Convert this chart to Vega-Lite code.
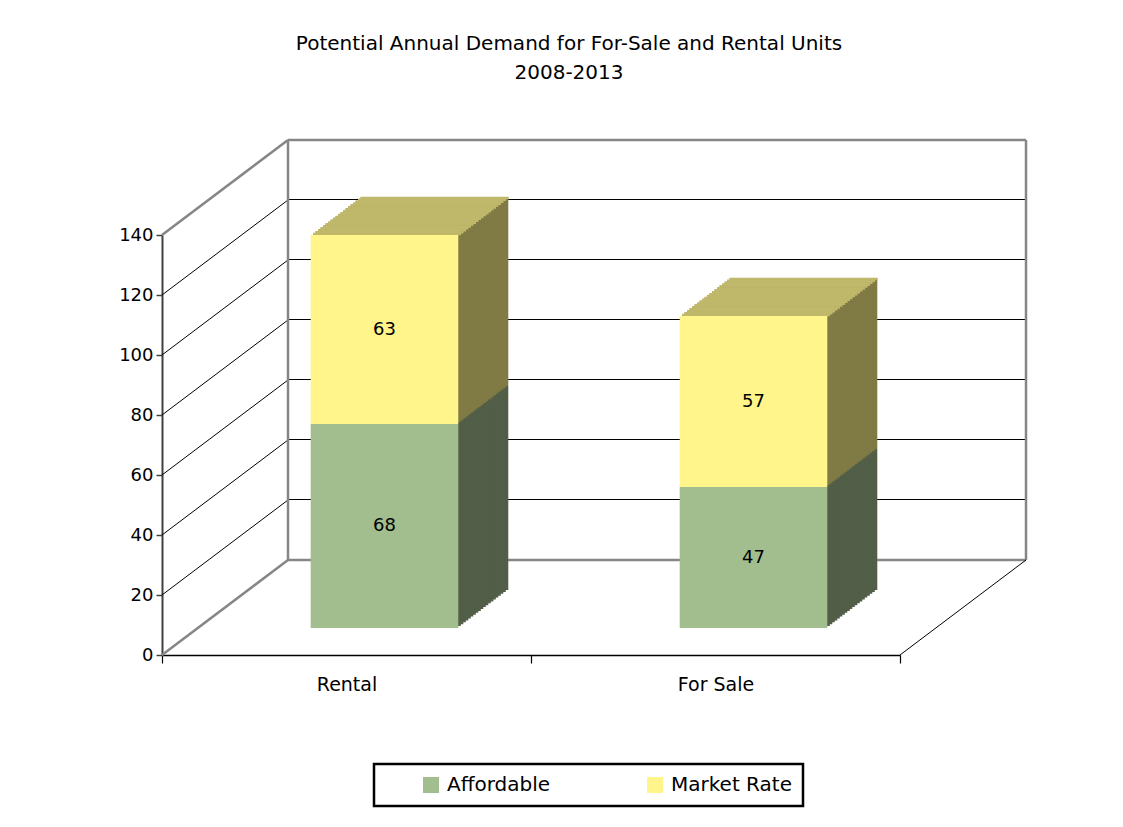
{
  "$schema": "https://vega.github.io/schema/vega-lite/v6.json",
  "autosize": "none",
  "width": 738,
  "height": 420,
  "padding": {"left": 162, "top": 235, "right": 223, "bottom": 172},
  "background": "white",
  "title": {
    "text": ["Potential Annual Demand for For-Sale and Rental Units", "2008-2013"],
    "anchor": "middle",
    "dx": 38,
    "offset": 56,
    "fontSize": 20,
    "font": "DejaVu Sans",
    "fontWeight": "normal",
    "color": "#000000",
    "lineHeight": 29
  },
  "datasets": {
    "bars": [
      {"cat": "Rental", "s": "Affordable", "value": 68},
      {"cat": "Rental", "s": "Market Rate", "value": 63},
      {"cat": "For Sale", "s": "Affordable", "value": 47},
      {"cat": "For Sale", "s": "Market Rate", "value": 57}
    ],
    "grid": [{"v": 0}, {"v": 20}, {"v": 40}, {"v": 60}, {"v": 80}, {"v": 100}, {"v": 120}, {"v": 140}],
    "one": [{"k": 1}]
  },
  "layer": [
    {
      "data": {"name": "grid"},
      "transform": [{"filter": "datum.v > 0 && datum.v < 140"}],
      "mark": {"type": "rule", "xOffset": 126, "x2Offset": 126, "yOffset": -95.5, "color": "#000000", "strokeWidth": 1},
      "encoding": {
        "x": {"datum": "Rental", "type": "nominal", "bandPosition": 0, "title": null, "scale": {"domain": ["Rental", "For Sale"], "paddingInner": 0, "paddingOuter": 0}},
        "x2": {"datum": "For Sale", "bandPosition": 1},
        "y": {"field": "v", "type": "quantitative", "title": null, "scale": {"domain": [0, 140], "nice": false}, "axis": {"values": [0, 20, 40, 60, 80, 100, 120, 140]}}
      }
    },
    {
      "data": {"name": "grid"},
      "transform": [{"filter": "datum.v == 0 || datum.v == 140"}],
      "mark": {"type": "rule", "xOffset": 126, "x2Offset": 126, "yOffset": -95, "color": "#868686", "strokeWidth": 2.5},
      "encoding": {
        "x": {"datum": "Rental", "type": "nominal", "bandPosition": 0, "title": null},
        "x2": {"datum": "For Sale", "bandPosition": 1},
        "y": {"field": "v", "type": "quantitative", "title": null}
      }
    },
    {
      "data": {"name": "grid"},
      "transform": [{"filter": "datum.v > 0 && datum.v < 140"}],
      "mark": {"type": "rule", "x2Offset": 126, "y2Offset": -95, "color": "#000000", "strokeWidth": 1},
      "encoding": {
        "x": {"datum": "Rental", "type": "nominal", "bandPosition": 0, "title": null},
        "x2": {"datum": "Rental", "bandPosition": 0},
        "y": {"field": "v", "type": "quantitative", "title": null},
        "y2": {"field": "v"}
      }
    },
    {
      "data": {"name": "grid"},
      "transform": [{"filter": "datum.v == 0 || datum.v == 140"}],
      "mark": {"type": "rule", "x2Offset": 126, "y2Offset": -95, "color": "#868686", "strokeWidth": 2.5},
      "encoding": {
        "x": {"datum": "Rental", "type": "nominal", "bandPosition": 0, "title": null},
        "x2": {"datum": "Rental", "bandPosition": 0},
        "y": {"field": "v", "type": "quantitative", "title": null},
        "y2": {"field": "v"}
      }
    },
    {
      "data": {"name": "one"},
      "mark": {"type": "rule", "xOffset": 126, "yOffset": -95, "y2Offset": -95, "color": "#868686", "strokeWidth": 2.5},
      "encoding": {
        "x": {"datum": "Rental", "type": "nominal", "bandPosition": 0, "title": null},
        "y": {"datum": 0, "type": "quantitative", "title": null},
        "y2": {"datum": 140}
      }
    },
    {
      "data": {"name": "one"},
      "mark": {"type": "rule", "xOffset": 126, "yOffset": -95, "y2Offset": -95, "color": "#868686", "strokeWidth": 2.5},
      "encoding": {
        "x": {"datum": "For Sale", "type": "nominal", "bandPosition": 1, "title": null},
        "y": {"datum": 0, "type": "quantitative", "title": null},
        "y2": {"datum": 140}
      }
    },
    {
      "data": {"name": "one"},
      "mark": {"type": "rule", "x2Offset": 126, "y2Offset": -95, "color": "#000000", "strokeWidth": 1},
      "encoding": {
        "x": {"datum": "For Sale", "type": "nominal", "bandPosition": 1, "title": null},
        "x2": {"datum": "For Sale", "bandPosition": 1},
        "y": {"datum": 0, "type": "quantitative", "title": null},
        "y2": {"datum": 0}
      }
    },
    {"data": {"name": "bars"}, "mark": {"type": "bar", "width": {"band": 0.4}, "xOffset": 88, "yOffset": -65}, "encoding": {"x": {"field": "cat", "type": "nominal", "title": null}, "y": {"field": "value", "type": "quantitative", "stack": "zero", "title": null}, "order": {"field": "s"}, "color": {"condition": {"test": "datum.s === 'Affordable'", "value": "#525E48"}, "value": "#807A44"}}},
    {"data": {"name": "bars"}, "mark": {"type": "bar", "width": {"band": 0.4}, "xOffset": 85.5, "yOffset": -63.1}, "encoding": {"x": {"field": "cat", "type": "nominal", "title": null}, "y": {"field": "value", "type": "quantitative", "stack": "zero", "title": null}, "order": {"field": "s"}, "color": {"condition": {"test": "datum.s === 'Affordable'", "value": "#525E48"}, "value": "#807A44"}}},
    {"data": {"name": "bars"}, "mark": {"type": "bar", "width": {"band": 0.4}, "xOffset": 83, "yOffset": -61.2}, "encoding": {"x": {"field": "cat", "type": "nominal", "title": null}, "y": {"field": "value", "type": "quantitative", "stack": "zero", "title": null}, "order": {"field": "s"}, "color": {"condition": {"test": "datum.s === 'Affordable'", "value": "#525E48"}, "value": "#807A44"}}},
    {"data": {"name": "bars"}, "mark": {"type": "bar", "width": {"band": 0.4}, "xOffset": 80.5, "yOffset": -59.3}, "encoding": {"x": {"field": "cat", "type": "nominal", "title": null}, "y": {"field": "value", "type": "quantitative", "stack": "zero", "title": null}, "order": {"field": "s"}, "color": {"condition": {"test": "datum.s === 'Affordable'", "value": "#525E48"}, "value": "#807A44"}}},
    {"data": {"name": "bars"}, "mark": {"type": "bar", "width": {"band": 0.4}, "xOffset": 78, "yOffset": -57.4}, "encoding": {"x": {"field": "cat", "type": "nominal", "title": null}, "y": {"field": "value", "type": "quantitative", "stack": "zero", "title": null}, "order": {"field": "s"}, "color": {"condition": {"test": "datum.s === 'Affordable'", "value": "#525E48"}, "value": "#807A44"}}},
    {"data": {"name": "bars"}, "mark": {"type": "bar", "width": {"band": 0.4}, "xOffset": 75.5, "yOffset": -55.5}, "encoding": {"x": {"field": "cat", "type": "nominal", "title": null}, "y": {"field": "value", "type": "quantitative", "stack": "zero", "title": null}, "order": {"field": "s"}, "color": {"condition": {"test": "datum.s === 'Affordable'", "value": "#525E48"}, "value": "#807A44"}}},
    {"data": {"name": "bars"}, "mark": {"type": "bar", "width": {"band": 0.4}, "xOffset": 73, "yOffset": -53.6}, "encoding": {"x": {"field": "cat", "type": "nominal", "title": null}, "y": {"field": "value", "type": "quantitative", "stack": "zero", "title": null}, "order": {"field": "s"}, "color": {"condition": {"test": "datum.s === 'Affordable'", "value": "#525E48"}, "value": "#807A44"}}},
    {"data": {"name": "bars"}, "mark": {"type": "bar", "width": {"band": 0.4}, "xOffset": 70.5, "yOffset": -51.7}, "encoding": {"x": {"field": "cat", "type": "nominal", "title": null}, "y": {"field": "value", "type": "quantitative", "stack": "zero", "title": null}, "order": {"field": "s"}, "color": {"condition": {"test": "datum.s === 'Affordable'", "value": "#525E48"}, "value": "#807A44"}}},
    {"data": {"name": "bars"}, "mark": {"type": "bar", "width": {"band": 0.4}, "xOffset": 68, "yOffset": -49.8}, "encoding": {"x": {"field": "cat", "type": "nominal", "title": null}, "y": {"field": "value", "type": "quantitative", "stack": "zero", "title": null}, "order": {"field": "s"}, "color": {"condition": {"test": "datum.s === 'Affordable'", "value": "#525E48"}, "value": "#807A44"}}},
    {"data": {"name": "bars"}, "mark": {"type": "bar", "width": {"band": 0.4}, "xOffset": 65.5, "yOffset": -47.9}, "encoding": {"x": {"field": "cat", "type": "nominal", "title": null}, "y": {"field": "value", "type": "quantitative", "stack": "zero", "title": null}, "order": {"field": "s"}, "color": {"condition": {"test": "datum.s === 'Affordable'", "value": "#525E48"}, "value": "#807A44"}}},
    {"data": {"name": "bars"}, "mark": {"type": "bar", "width": {"band": 0.4}, "xOffset": 63, "yOffset": -46}, "encoding": {"x": {"field": "cat", "type": "nominal", "title": null}, "y": {"field": "value", "type": "quantitative", "stack": "zero", "title": null}, "order": {"field": "s"}, "color": {"condition": {"test": "datum.s === 'Affordable'", "value": "#525E48"}, "value": "#807A44"}}},
    {"data": {"name": "bars"}, "mark": {"type": "bar", "width": {"band": 0.4}, "xOffset": 60.5, "yOffset": -44.1}, "encoding": {"x": {"field": "cat", "type": "nominal", "title": null}, "y": {"field": "value", "type": "quantitative", "stack": "zero", "title": null}, "order": {"field": "s"}, "color": {"condition": {"test": "datum.s === 'Affordable'", "value": "#525E48"}, "value": "#807A44"}}},
    {"data": {"name": "bars"}, "mark": {"type": "bar", "width": {"band": 0.4}, "xOffset": 58, "yOffset": -42.2}, "encoding": {"x": {"field": "cat", "type": "nominal", "title": null}, "y": {"field": "value", "type": "quantitative", "stack": "zero", "title": null}, "order": {"field": "s"}, "color": {"condition": {"test": "datum.s === 'Affordable'", "value": "#525E48"}, "value": "#807A44"}}},
    {"data": {"name": "bars"}, "mark": {"type": "bar", "width": {"band": 0.4}, "xOffset": 55.5, "yOffset": -40.3}, "encoding": {"x": {"field": "cat", "type": "nominal", "title": null}, "y": {"field": "value", "type": "quantitative", "stack": "zero", "title": null}, "order": {"field": "s"}, "color": {"condition": {"test": "datum.s === 'Affordable'", "value": "#525E48"}, "value": "#807A44"}}},
    {"data": {"name": "bars"}, "mark": {"type": "bar", "width": {"band": 0.4}, "xOffset": 53, "yOffset": -38.4}, "encoding": {"x": {"field": "cat", "type": "nominal", "title": null}, "y": {"field": "value", "type": "quantitative", "stack": "zero", "title": null}, "order": {"field": "s"}, "color": {"condition": {"test": "datum.s === 'Affordable'", "value": "#525E48"}, "value": "#807A44"}}},
    {"data": {"name": "bars"}, "mark": {"type": "bar", "width": {"band": 0.4}, "xOffset": 50.5, "yOffset": -36.5}, "encoding": {"x": {"field": "cat", "type": "nominal", "title": null}, "y": {"field": "value", "type": "quantitative", "stack": "zero", "title": null}, "order": {"field": "s"}, "color": {"condition": {"test": "datum.s === 'Affordable'", "value": "#525E48"}, "value": "#807A44"}}},
    {"data": {"name": "bars"}, "mark": {"type": "bar", "width": {"band": 0.4}, "xOffset": 48, "yOffset": -34.6}, "encoding": {"x": {"field": "cat", "type": "nominal", "title": null}, "y": {"field": "value", "type": "quantitative", "stack": "zero", "title": null}, "order": {"field": "s"}, "color": {"condition": {"test": "datum.s === 'Affordable'", "value": "#525E48"}, "value": "#807A44"}}},
    {"data": {"name": "bars"}, "mark": {"type": "bar", "width": {"band": 0.4}, "xOffset": 45.5, "yOffset": -32.7}, "encoding": {"x": {"field": "cat", "type": "nominal", "title": null}, "y": {"field": "value", "type": "quantitative", "stack": "zero", "title": null}, "order": {"field": "s"}, "color": {"condition": {"test": "datum.s === 'Affordable'", "value": "#525E48"}, "value": "#807A44"}}},
    {"data": {"name": "bars"}, "mark": {"type": "bar", "width": {"band": 0.4}, "xOffset": 43, "yOffset": -30.8}, "encoding": {"x": {"field": "cat", "type": "nominal", "title": null}, "y": {"field": "value", "type": "quantitative", "stack": "zero", "title": null}, "order": {"field": "s"}, "color": {"condition": {"test": "datum.s === 'Affordable'", "value": "#525E48"}, "value": "#807A44"}}},
    {"data": {"name": "bars"}, "mark": {"type": "bar", "width": {"band": 0.4}, "xOffset": 40.5, "yOffset": -28.9}, "encoding": {"x": {"field": "cat", "type": "nominal", "title": null}, "y": {"field": "value", "type": "quantitative", "stack": "zero", "title": null}, "order": {"field": "s"}, "color": {"condition": {"test": "datum.s === 'Affordable'", "value": "#525E48"}, "value": "#807A44"}}},
    {"data": {"name": "bars"}, "mark": {"type": "tick", "orient": "horizontal", "size": 148, "thickness": 2.5, "color": "#BFB86A", "opacity": 1, "xOffset": 88, "yOffset": -64.05}, "encoding": {"x": {"field": "cat", "type": "nominal", "title": null}, "y": {"aggregate": "sum", "field": "value", "type": "quantitative", "title": null}}},
    {"data": {"name": "bars"}, "mark": {"type": "tick", "orient": "horizontal", "size": 148, "thickness": 2.5, "color": "#BFB86A", "opacity": 1, "xOffset": 85.5, "yOffset": -62.15}, "encoding": {"x": {"field": "cat", "type": "nominal", "title": null}, "y": {"aggregate": "sum", "field": "value", "type": "quantitative", "title": null}}},
    {"data": {"name": "bars"}, "mark": {"type": "tick", "orient": "horizontal", "size": 148, "thickness": 2.5, "color": "#BFB86A", "opacity": 1, "xOffset": 83, "yOffset": -60.25}, "encoding": {"x": {"field": "cat", "type": "nominal", "title": null}, "y": {"aggregate": "sum", "field": "value", "type": "quantitative", "title": null}}},
    {"data": {"name": "bars"}, "mark": {"type": "tick", "orient": "horizontal", "size": 148, "thickness": 2.5, "color": "#BFB86A", "opacity": 1, "xOffset": 80.5, "yOffset": -58.35}, "encoding": {"x": {"field": "cat", "type": "nominal", "title": null}, "y": {"aggregate": "sum", "field": "value", "type": "quantitative", "title": null}}},
    {"data": {"name": "bars"}, "mark": {"type": "tick", "orient": "horizontal", "size": 148, "thickness": 2.5, "color": "#BFB86A", "opacity": 1, "xOffset": 78, "yOffset": -56.45}, "encoding": {"x": {"field": "cat", "type": "nominal", "title": null}, "y": {"aggregate": "sum", "field": "value", "type": "quantitative", "title": null}}},
    {"data": {"name": "bars"}, "mark": {"type": "tick", "orient": "horizontal", "size": 148, "thickness": 2.5, "color": "#BFB86A", "opacity": 1, "xOffset": 75.5, "yOffset": -54.55}, "encoding": {"x": {"field": "cat", "type": "nominal", "title": null}, "y": {"aggregate": "sum", "field": "value", "type": "quantitative", "title": null}}},
    {"data": {"name": "bars"}, "mark": {"type": "tick", "orient": "horizontal", "size": 148, "thickness": 2.5, "color": "#BFB86A", "opacity": 1, "xOffset": 73, "yOffset": -52.65}, "encoding": {"x": {"field": "cat", "type": "nominal", "title": null}, "y": {"aggregate": "sum", "field": "value", "type": "quantitative", "title": null}}},
    {"data": {"name": "bars"}, "mark": {"type": "tick", "orient": "horizontal", "size": 148, "thickness": 2.5, "color": "#BFB86A", "opacity": 1, "xOffset": 70.5, "yOffset": -50.75}, "encoding": {"x": {"field": "cat", "type": "nominal", "title": null}, "y": {"aggregate": "sum", "field": "value", "type": "quantitative", "title": null}}},
    {"data": {"name": "bars"}, "mark": {"type": "tick", "orient": "horizontal", "size": 148, "thickness": 2.5, "color": "#BFB86A", "opacity": 1, "xOffset": 68, "yOffset": -48.85}, "encoding": {"x": {"field": "cat", "type": "nominal", "title": null}, "y": {"aggregate": "sum", "field": "value", "type": "quantitative", "title": null}}},
    {"data": {"name": "bars"}, "mark": {"type": "tick", "orient": "horizontal", "size": 148, "thickness": 2.5, "color": "#BFB86A", "opacity": 1, "xOffset": 65.5, "yOffset": -46.95}, "encoding": {"x": {"field": "cat", "type": "nominal", "title": null}, "y": {"aggregate": "sum", "field": "value", "type": "quantitative", "title": null}}},
    {"data": {"name": "bars"}, "mark": {"type": "tick", "orient": "horizontal", "size": 148, "thickness": 2.5, "color": "#BFB86A", "opacity": 1, "xOffset": 63, "yOffset": -45.05}, "encoding": {"x": {"field": "cat", "type": "nominal", "title": null}, "y": {"aggregate": "sum", "field": "value", "type": "quantitative", "title": null}}},
    {"data": {"name": "bars"}, "mark": {"type": "tick", "orient": "horizontal", "size": 148, "thickness": 2.5, "color": "#BFB86A", "opacity": 1, "xOffset": 60.5, "yOffset": -43.15}, "encoding": {"x": {"field": "cat", "type": "nominal", "title": null}, "y": {"aggregate": "sum", "field": "value", "type": "quantitative", "title": null}}},
    {"data": {"name": "bars"}, "mark": {"type": "tick", "orient": "horizontal", "size": 148, "thickness": 2.5, "color": "#BFB86A", "opacity": 1, "xOffset": 58, "yOffset": -41.25}, "encoding": {"x": {"field": "cat", "type": "nominal", "title": null}, "y": {"aggregate": "sum", "field": "value", "type": "quantitative", "title": null}}},
    {"data": {"name": "bars"}, "mark": {"type": "tick", "orient": "horizontal", "size": 148, "thickness": 2.5, "color": "#BFB86A", "opacity": 1, "xOffset": 55.5, "yOffset": -39.35}, "encoding": {"x": {"field": "cat", "type": "nominal", "title": null}, "y": {"aggregate": "sum", "field": "value", "type": "quantitative", "title": null}}},
    {"data": {"name": "bars"}, "mark": {"type": "tick", "orient": "horizontal", "size": 148, "thickness": 2.5, "color": "#BFB86A", "opacity": 1, "xOffset": 53, "yOffset": -37.45}, "encoding": {"x": {"field": "cat", "type": "nominal", "title": null}, "y": {"aggregate": "sum", "field": "value", "type": "quantitative", "title": null}}},
    {"data": {"name": "bars"}, "mark": {"type": "tick", "orient": "horizontal", "size": 148, "thickness": 2.5, "color": "#BFB86A", "opacity": 1, "xOffset": 50.5, "yOffset": -35.55}, "encoding": {"x": {"field": "cat", "type": "nominal", "title": null}, "y": {"aggregate": "sum", "field": "value", "type": "quantitative", "title": null}}},
    {"data": {"name": "bars"}, "mark": {"type": "tick", "orient": "horizontal", "size": 148, "thickness": 2.5, "color": "#BFB86A", "opacity": 1, "xOffset": 48, "yOffset": -33.65}, "encoding": {"x": {"field": "cat", "type": "nominal", "title": null}, "y": {"aggregate": "sum", "field": "value", "type": "quantitative", "title": null}}},
    {"data": {"name": "bars"}, "mark": {"type": "tick", "orient": "horizontal", "size": 148, "thickness": 2.5, "color": "#BFB86A", "opacity": 1, "xOffset": 45.5, "yOffset": -31.75}, "encoding": {"x": {"field": "cat", "type": "nominal", "title": null}, "y": {"aggregate": "sum", "field": "value", "type": "quantitative", "title": null}}},
    {"data": {"name": "bars"}, "mark": {"type": "tick", "orient": "horizontal", "size": 148, "thickness": 2.5, "color": "#BFB86A", "opacity": 1, "xOffset": 43, "yOffset": -29.85}, "encoding": {"x": {"field": "cat", "type": "nominal", "title": null}, "y": {"aggregate": "sum", "field": "value", "type": "quantitative", "title": null}}},
    {"data": {"name": "bars"}, "mark": {"type": "tick", "orient": "horizontal", "size": 148, "thickness": 2.5, "color": "#BFB86A", "opacity": 1, "xOffset": 40.5, "yOffset": -27.95}, "encoding": {"x": {"field": "cat", "type": "nominal", "title": null}, "y": {"aggregate": "sum", "field": "value", "type": "quantitative", "title": null}}},
    {"data": {"name": "bars"}, "mark": {"type": "bar", "width": {"band": 0.4}, "xOffset": 38, "yOffset": -27},
     "encoding": {
       "x": {"field": "cat", "type": "nominal", "title": null},
       "y": {"field": "value", "type": "quantitative", "stack": "zero", "title": null},
       "order": {"field": "s"},
       "color": {"field": "s", "type": "nominal", "title": null, "scale": {"domain": ["Affordable", "Market Rate"], "range": ["#A2BE8F", "#FFF58A"]},
         "legend": {"orient": "none", "legendX": 212, "legendY": 529, "direction": "horizontal", "columns": 2, "symbolType": "square", "symbolSize": 256, "symbolStrokeWidth": 0, "symbolOpacity": 1, "symbolOffset": 36, "labelFontSize": 20, "labelFont": "DejaVu Sans", "labelColor": "#000000", "labelOffset": 6, "columnPadding": 58, "padding": 11, "strokeColor": "#000000", "fillColor": "#FFFFFF",
           "encode": {"legend": {"update": {"strokeWidth": {"value": 2.5}}}}}}
     }},
    {"data": {"name": "bars"},
     "transform": [
       {"stack": "value", "groupby": ["cat"], "sort": [{"field": "s"}], "as": ["v0", "v1"]},
       {"fold": ["v0", "v1"], "as": ["edge", "pos"]}
     ],
     "mark": {"type": "text", "xOffset": 38, "yOffset": -27, "fontSize": 18, "font": "DejaVu Sans", "color": "#000000", "baseline": "middle"},
     "encoding": {
       "x": {"field": "cat", "type": "nominal", "title": null},
       "y": {"aggregate": "mean", "field": "pos", "type": "quantitative", "title": null},
       "detail": {"field": "s"},
       "text": {"aggregate": "max", "field": "value", "type": "quantitative"}
     }}
  ],
  "config": {
    "view": {"stroke": null},
    "axis": {"grid": false},
    "axisX": {"domainColor": "#000000", "domainWidth": 1.5, "tickColor": "#000000", "tickWidth": 1.2, "tickSize": 8, "tickBand": "extent", "labelFontSize": 19, "labelFont": "DejaVu Sans", "labelColor": "#000000", "labelPadding": 12, "labelAngle": 0},
    "axisY": {"domainColor": "#404040", "domainWidth": 2, "tickColor": "#404040", "tickWidth": 1.5, "tickSize": 6, "labelFontSize": 18, "labelFont": "DejaVu Sans", "labelColor": "#000000", "labelPadding": 3}
  }
}
